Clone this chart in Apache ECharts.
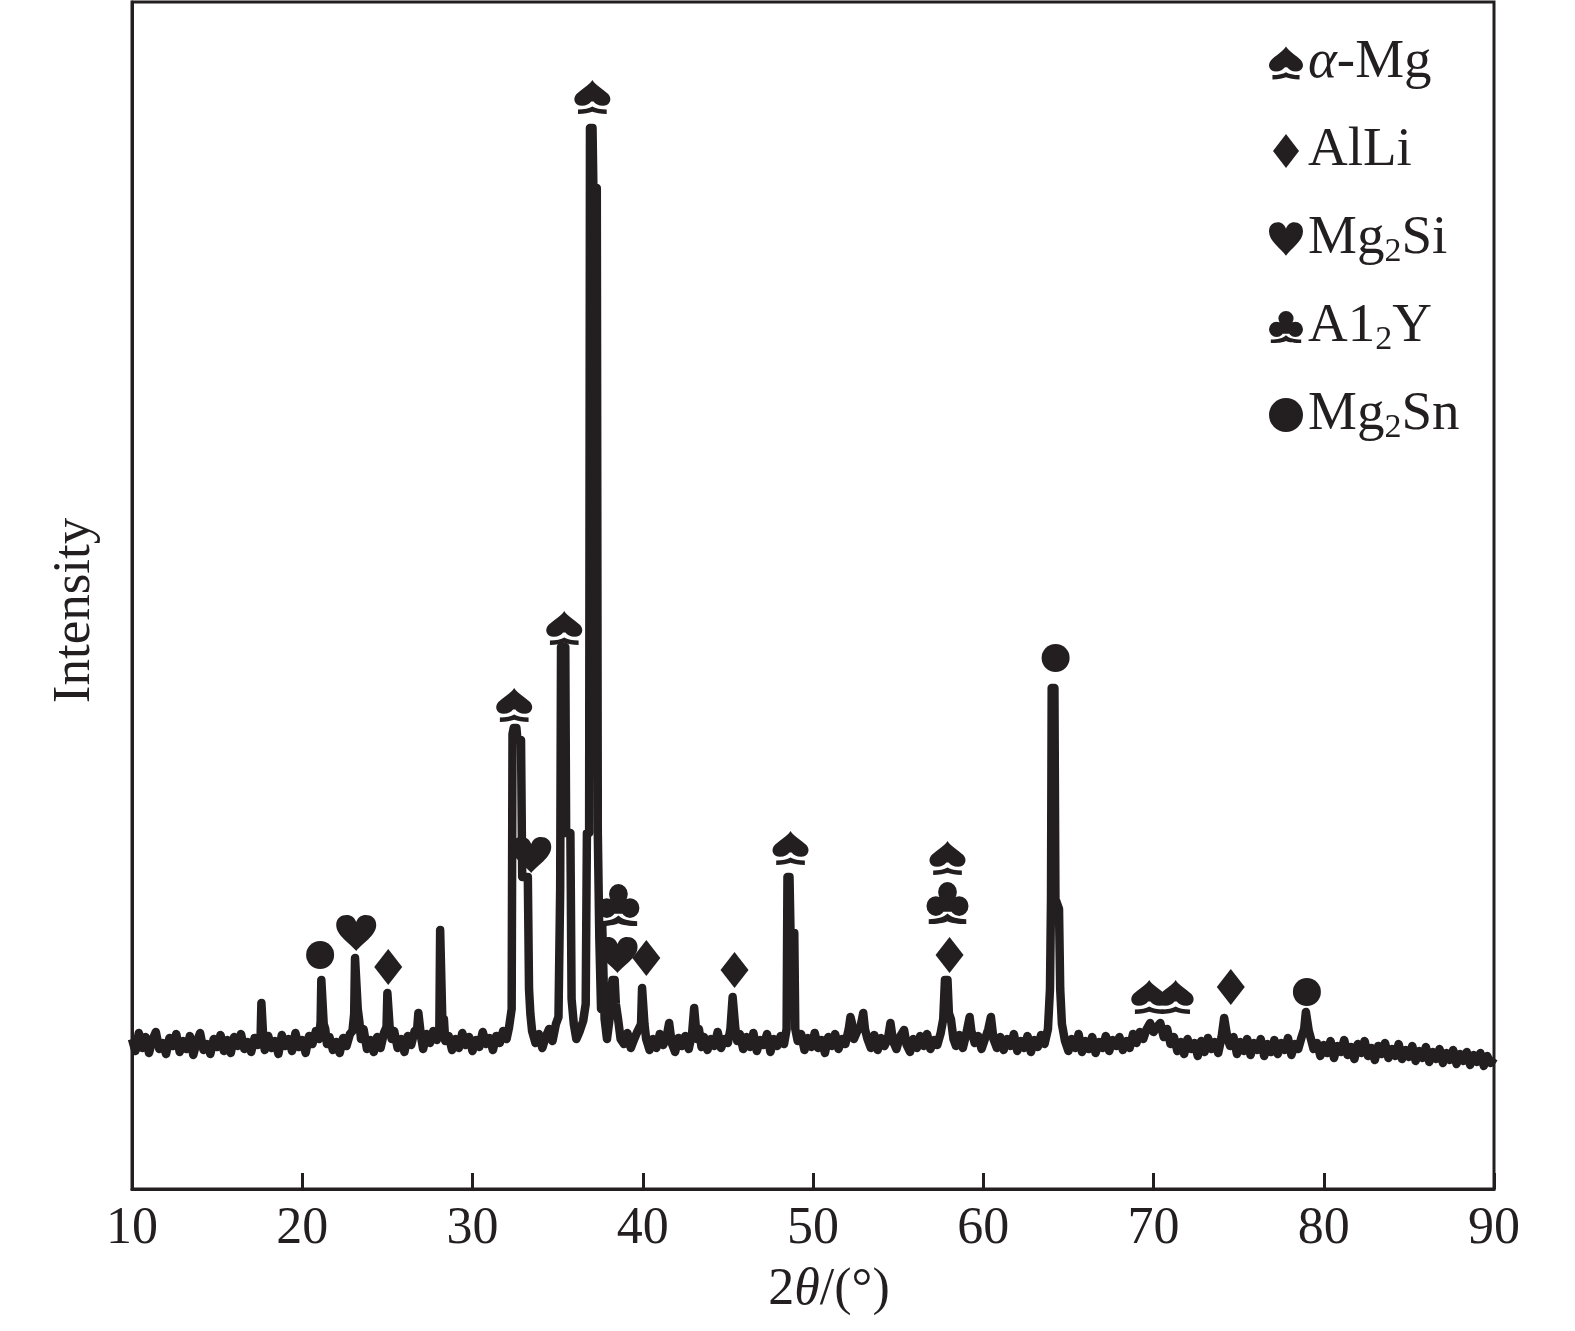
<!DOCTYPE html>
<html><head><meta charset="utf-8">
<script src="https://cdn.jsdelivr.net/npm/echarts@6/dist/echarts.min.js"></script>
<style>html,body{margin:0;padding:0;background:#fff}#c{width:1575px;height:1331px}</style>
</head><body><div id="c"></div>
<script>
// XRD scan: [2theta (deg), intensity (a.u.)]
const scan = [
[10.0,150],[10.2,138],[10.4,156],[10.6,141],[10.8,152],[11.0,136],[11.2,149],[11.4,157],[11.6,140],[11.8,146],
[12.0,135],[12.2,151],[12.4,143],[12.6,155],[12.8,137],[13.0,148],[13.2,140],[13.4,153],[13.6,134],[13.8,147],
[14.0,156],[14.2,139],[14.4,145],[14.6,135],[14.8,150],[15.0,142],[15.2,154],[15.4,138],[15.6,149],[15.8,136],
[16.0,152],[16.2,143],[16.4,155],[16.6,140],[16.8,147],[17.0,137],[17.2,151],[17.4,144],
[17.55,150],[17.6,186],[17.66,186],[17.72,148],
[17.8,139],[18.0,153],[18.2,141],[18.4,148],[18.6,135],[18.8,154],[19.0,143],[19.2,150],[19.4,138],[19.6,156],
[19.8,142],[20.0,149],[20.2,136],[20.4,153],[20.6,145],[20.8,158],
[21.0,150],[21.08,168],[21.12,209],[21.2,209],[21.26,165],[21.35,160],[21.45,145],
[21.6,152],[21.8,139],[22.0,147],[22.2,136],[22.4,151],[22.6,143],[22.8,155],
[22.95,158],[23.05,175],[23.1,231],[23.2,231],[23.26,180],[23.35,168],[23.45,150],
[23.6,160],[23.8,140],[24.0,149],[24.2,137],[24.4,152],[24.6,141],[24.8,156],
[24.95,162],[25.0,196],[25.08,196],[25.14,160],[25.25,150],
[25.4,158],[25.6,141],[25.8,150],[26.0,137],[26.2,153],[26.4,144],[26.6,158],
[26.75,160],[26.82,176],[26.9,176],[26.98,152],
[27.1,140],[27.3,155],[27.5,146],[27.7,158],[27.9,149],
[28.05,155],[28.1,259],[28.18,259],[28.24,160],[28.32,170],[28.4,148],
[28.6,153],[28.8,139],[29.0,150],[29.2,141],[29.4,156],[29.6,144],[29.8,152],[30.0,138],[30.2,149],[30.4,142],
[30.6,157],[30.8,145],[31.0,151],[31.2,139],[31.4,153],[31.6,146],[31.8,158],[32.0,150],[32.15,162],
[32.3,180],[32.35,455],[32.42,461],[32.58,461],[32.64,449],[32.85,449],[32.92,312],[33.25,312],[33.32,200],[33.4,175],[33.5,158],
[33.7,146],[33.9,155],[34.1,141],[34.3,152],[34.5,160],[34.7,148],[34.9,165],[35.05,172],
[35.15,300],[35.2,542],[35.45,542],[35.5,356],[35.75,356],[35.82,190],[35.95,165],
[36.1,150],[36.3,158],[36.5,168],[36.65,185],
[36.72,356],[36.85,356],[36.9,1061],[37.05,1061],[37.1,1001],[37.3,1001],[37.36,356],[37.45,250],[37.55,180],[37.62,264],[37.7,264],[37.76,170],[37.9,150],
[38.05,170],[38.15,195],[38.22,209],[38.35,209],[38.42,185],[38.55,170],[38.7,150],
[38.9,145],[39.1,156],[39.3,141],[39.5,150],[39.7,158],
[39.9,165],[39.96,201],[40.05,201],[40.1,165],[40.2,150],
[40.4,139],[40.6,150],[40.8,141],[41.0,155],[41.2,144],[41.4,152],[41.55,166],[41.7,146],[41.9,137],[42.1,151],
[42.3,143],[42.5,153],[42.7,140],[42.9,156],
[43.02,181],[43.1,181],[43.18,150],[43.3,160],[43.45,142],
[43.6,152],[43.8,139],[44.0,150],[44.2,143],[44.4,157],[44.6,141],[44.8,150],[45.0,146],[45.15,160],
[45.28,192],[45.36,192],[45.44,160],[45.55,148],
[45.7,155],[45.9,140],[46.1,152],[46.3,142],[46.5,156],[46.7,138],[46.9,149],[47.1,144],[47.3,155],[47.5,137],
[47.7,150],[47.9,143],[48.1,153],[48.3,145],
[48.45,160],[48.5,312],[48.62,312],[48.68,256],[48.9,256],[48.96,160],[49.1,148],
[49.3,155],[49.5,139],[49.7,151],[49.9,142],[50.1,156],[50.3,141],[50.5,149],[50.7,136],[50.9,152],[51.1,143],
[51.3,155],[51.5,140],[51.7,150],[51.9,145],[52.1,160],[52.2,172],[52.3,165],[52.4,150],[52.6,158],[52.8,163],
[52.95,176],[53.05,160],[53.2,150],[53.4,141],[53.6,154],[53.8,139],[54.0,151],[54.2,143],[54.4,150],[54.55,166],
[54.7,148],[54.9,140],[55.1,152],[55.35,159],[55.5,144],[55.7,137],[55.9,150],[56.1,141],[56.3,153],[56.5,143],
[56.7,155],[56.9,140],[57.1,149],[57.3,144],[57.5,156],[57.65,170],
[57.75,209],[57.9,209],[57.98,176],[58.1,170],[58.25,150],
[58.4,143],[58.6,154],[58.8,141],[59.0,155],[59.2,172],[59.3,158],[59.5,146],[59.7,153],[59.9,140],[60.1,150],
[60.3,160],[60.45,172],[60.6,150],[60.8,141],[61.0,152],[61.2,139],[61.4,150],[61.6,143],[61.8,155],[62.0,138],
[62.2,148],[62.4,141],[62.6,153],[62.8,137],[63.0,149],[63.2,142],[63.4,154],[63.6,145],[63.8,160],
[63.92,200],[63.98,290],[64.02,501],[64.18,501],[64.24,290],[64.45,280],[64.52,200],[64.62,165],
[64.8,148],[65.0,138],[65.2,150],[65.4,141],[65.6,155],[65.8,137],[66.0,148],[66.2,140],[66.4,152],[66.6,136],
[66.8,147],[67.0,141],[67.2,153],[67.4,138],[67.6,149],[67.8,143],[68.0,152],[68.2,139],[68.4,148],[68.6,141],
[68.8,155],[69.0,146],[69.2,157],[69.4,150],
[69.6,160],[69.8,166],[70.0,157],[70.2,162],[70.4,166],[70.6,152],[70.8,160],[71.0,145],[71.2,152],
[71.4,138],[71.6,147],[71.8,135],[72.0,150],[72.2,140],[72.4,146],[72.6,133],[72.8,148],[73.0,137],[73.2,151],
[73.4,140],[73.6,147],[73.8,136],[74.0,152],
[74.15,171],[74.25,171],[74.35,150],[74.5,143],
[74.7,152],[74.9,135],[75.1,147],[75.3,138],[75.5,150],[75.7,134],[75.9,146],[76.1,139],[76.3,150],[76.5,133],
[76.7,145],[76.9,137],[77.1,149],[77.3,135],[77.5,146],[77.7,139],[77.9,151],[78.1,134],[78.3,145],[78.5,140],
[78.7,152],[78.85,160],
[78.95,177],[79.05,177],[79.12,158],[79.25,150],[79.4,140],
[79.6,146],[79.8,133],[80.0,144],[80.2,136],[80.4,148],[80.6,131],[80.8,143],[81.0,137],[81.2,149],[81.4,134],
[81.6,142],[81.8,130],[82.0,145],[82.2,136],[82.4,148],[82.6,133],[82.8,141],[83.0,129],[83.2,143],[83.4,135],
[83.6,146],[83.8,131],[84.0,140],[84.2,133],[84.4,145],[84.6,130],[84.8,139],[85.0,132],[85.2,143],[85.4,128],
[85.6,138],[85.8,131],[86.0,142],[86.2,127],[86.4,137],[86.6,130],[86.8,140],[87.0,126],[87.2,136],[87.4,129],
[87.6,139],[87.8,125],[88.0,135],[88.2,128],[88.4,137],[88.6,124],[88.8,134],[89.0,127],[89.2,136],[89.4,123],
[89.6,133],[89.8,126],[90.0,131]
];

// Phase marker positions [2theta, height]
const alphaMgMarks = [[32.45,484],[35.39,561],[37.04,1092],[48.68,341],[57.90,331],[69.75,192],[71.3,192]];
const alLiMarks    = [[25.05,222],[40.21,231],[45.39,219],[58.02,234],[74.54,202]];
const mg2SiMarks   = [[23.17,256],[33.45,334],[38.52,234]];
const al2YMarks    = [[38.57,284],[57.90,286]];
const mg2SnMarks   = [[21.05,234],[64.25,531],[79.01,197]];

const phaseNames = ['α-Mg','AlLi','Mg₂Si','A1₂Y','Mg₂Sn'];
const phaseLabels = ['{it|α}-Mg','AlLi','Mg{sub|2}Si','A1{sub|2}Y','Mg{sub|2}Sn'];
const xMin = 10, xMax = 90, xStep = 10;

const INK = '#231f20';
const F = "'Liberation Serif','Times New Roman',serif";
const SPADE = 'path://M50 0C58 14 80 26 92 38C104 52 96 70 78 70C66 70 58 64 53 58L47 58C42 64 34 70 22 70C4 70 -4 52 8 38C20 26 42 14 50 0Z M12 80C28 80 42 77 50 72C58 77 72 80 88 80L88 92C72 92 58 89 50 86C42 89 28 92 12 92Z';
const DIAMOND = 'path://M13 0L26 17L13 34L0 17Z';
const HEART = 'path://M50 96C36 76 2 56 2 28C2 10 14 2 27 2C38 2 46 9 50 20C54 9 62 2 73 2C86 2 98 10 98 28C98 56 64 76 50 96Z';
const CLUB = 'path://M29 24A21 21 0 1 1 71 24A21 21 0 1 1 29 24Z M3 54A21 21 0 1 1 45 54A21 21 0 1 1 3 54Z M55 54A21 21 0 1 1 97 54A21 21 0 1 1 55 54Z M38 36L62 36L62 66L38 66Z M8 82C26 82 42 78 50 70C58 78 74 82 92 82L92 92C74 92 58 90 50 86C42 90 26 92 8 92Z';
const symbols = [SPADE, DIAMOND, HEART, CLUB, 'circle'];
const sizes = [[36,34],[28,36],[40,36],[42,42],[28,28]];
const marks = [alphaMgMarks, alLiMarks, mg2SiMarks, al2YMarks, mg2SnMarks];

const chart = echarts.init(document.getElementById('c'), null, {renderer:'canvas'});
const markerSeries = phaseNames.map((n,i)=>({
  name:n, type:'scatter', data:marks[i], symbol:symbols[i], symbolSize:sizes[i], symbolKeepAspect:false,
  itemStyle:{color:INK, opacity:1}, z:5, silent:true
}));
chart.setOption({
  animation:false,
  backgroundColor:'#fff',
  grid:{left:132, right:81, top:2, bottom:142, show:true, borderColor:INK, borderWidth:3, backgroundColor:'transparent'},
  legend:{
    orient:'vertical', left:1264, top:28, itemWidth:34, itemHeight:34, itemGap:28,
    data: phaseNames.map((n,i)=>({name:n, icon:symbols[i]})),
    formatter: n => phaseLabels[phaseNames.indexOf(n)],
    textStyle:{fontFamily:F, fontSize:55, color:INK, lineHeight:60,
      rich:{
        it:{fontFamily:F, fontSize:55, fontStyle:'italic', color:INK, lineHeight:60},
        sub:{fontFamily:F, fontSize:34, color:INK, lineHeight:60, verticalAlign:'bottom'}
      }},
    itemStyle:{color:INK}
  },
  xAxis:{
    type:'value', min:xMin, max:xMax, interval:xStep,
    axisLine:{lineStyle:{color:INK, width:3}},
    axisTick:{inside:true, length:16, lineStyle:{color:INK, width:3}},
    axisLabel:{fontFamily:F, fontSize:52, color:INK, margin:14},
    splitLine:{show:false},
    name:'2{it|θ}/(°)', nameLocation:'middle', nameGap:75,
    nameTextStyle:{fontFamily:F, fontSize:52, color:INK, padding:[0,0,0,32],
      rich:{it:{fontFamily:F, fontSize:52, fontStyle:'italic', color:INK}}}
  },
  yAxis:{
    type:'value', min:0, max:1187,
    axisLine:{show:true, lineStyle:{color:INK, width:3}},
    axisTick:{show:false}, axisLabel:{show:false}, splitLine:{show:false},
    name:'Intensity', nameLocation:'middle', nameGap:30,
    nameTextStyle:{fontFamily:F, fontSize:53, color:INK, padding:[0,30,0,0]}
  },
  series:[
    {name:'scan', type:'line', data:scan, showSymbol:false, symbol:'none', smooth:false,
     lineStyle:{color:INK, width:8.5, join:'round', cap:'butt'}, z:3, silent:true}
  ].concat(markerSeries)
});
</script></body></html>
